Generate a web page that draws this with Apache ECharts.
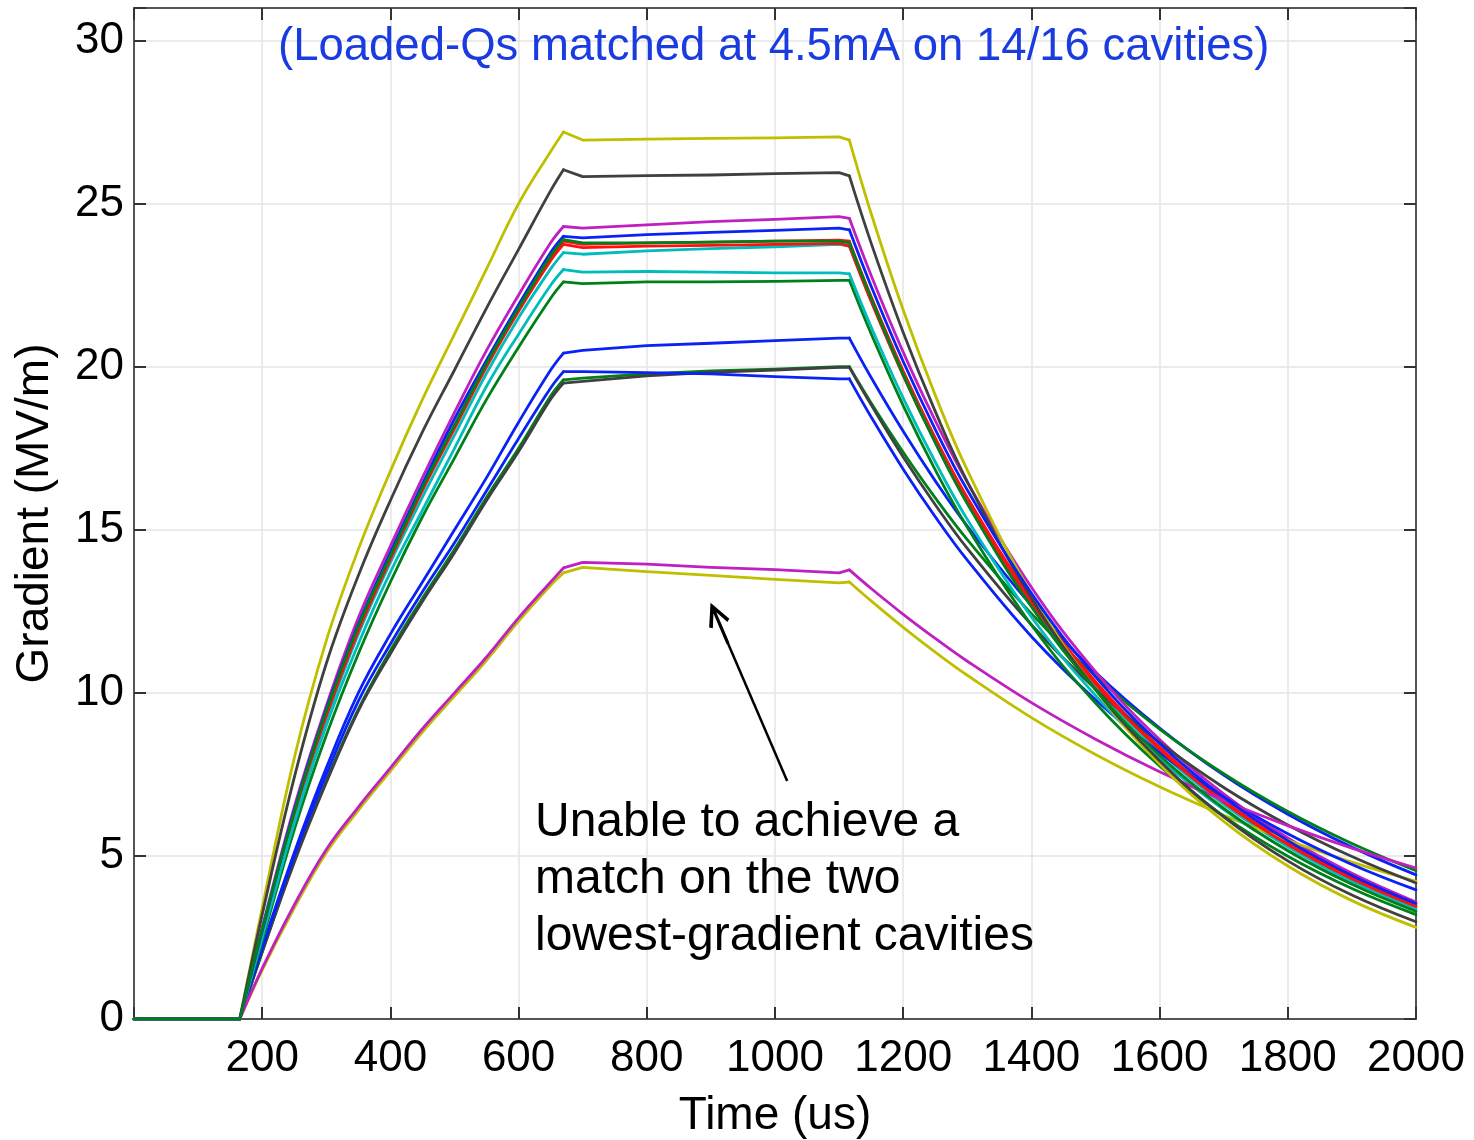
<!DOCTYPE html>
<html>
<head>
<meta charset="utf-8">
<script src="https://cdn.jsdelivr.net/npm/echarts@6/dist/echarts.min.js"></script>
<style>
html,body{margin:0;padding:0;background:#fff;}
#chart{width:1474px;height:1140px;}
</style>
</head>
<body>
<div id="chart"></div>
<script>
// Time axis (us)
var timeUs = [0,165,200,250,300,350,400,450,500,550,600,650,670,700,800,900,1000,1100,1116,1150,1200,1250,1300,1400,1500,1600,1700,1800,1900,2000];

// Gradient (MV/m) per cavity
var yellowTop   = [0,0, 3.4,8.0,11.6,14.4,16.8,19.0,21.0,23.0,25.0,26.6,27.2, 26.95,26.98,27.0,27.02,27.05, 26.95, 24.70,21.74,19.13,16.83,13.04,10.10,7.82,6.06,4.69,3.63,2.81];
var blackTop    = [0,0, 3.2,7.4,10.9,13.6,15.9,18.0,19.9,21.8,23.6,25.4,26.04, 25.83,25.86,25.88,25.92,25.95, 25.85, 23.79,21.05,18.63,16.48,12.91,10.11,7.92,6.20,4.85,3.80,2.98];
var magentaHigh = [0,0, 2.8,6.5,9.6,12.3,14.5,16.6,18.6,20.5,22.2,23.8,24.3, 24.25,24.35,24.45,24.52,24.6, 24.55, 22.80,20.45,18.35,16.46,13.24,10.65,8.57,6.90,5.55,4.47,3.59];
var blueHigh    = [0,0, 2.7,6.4,9.5,12.1,14.3,16.4,18.4,20.2,21.9,23.5,24.0, 23.95,24.05,24.12,24.18,24.25, 24.2, 22.47,20.16,18.08,16.22,13.05,10.50,8.45,6.80,5.47,4.40,3.54];
var redA        = [0,0, 2.7,6.3,9.4,12.0,14.2,16.3,18.2,20.1,21.8,23.35,23.85, 23.75,23.8,23.82,23.85,23.88, 23.85, 22.15,19.87,17.82,15.99,12.86,10.35,8.33,6.70,5.39,4.34,3.49];
var greenA      = [0,0, 2.75,6.35,9.45,12.05,14.2,16.3,18.2,20.1,21.8,23.4,23.9, 23.8,23.8,23.82,23.85,23.85, 23.8, 22.10,19.76,17.67,15.80,12.64,10.10,8.08,6.46,5.16,4.13,3.30];
var redB        = [0,0, 2.7,6.3,9.3,11.9,14.1,16.2,18.1,20.0,21.7,23.25,23.75, 23.65,23.7,23.72,23.75,23.78, 23.7, 22.0,19.73,17.70,15.87,12.77,10.28,8.27,6.65,5.35,4.30,3.45];
var cyanA       = [0,0, 2.6,6.2,9.2,11.8,14.0,16.0,17.9,19.8,21.5,23.0,23.5, 23.45,23.55,23.62,23.68,23.75, 23.7, 22.04,19.75,17.69,15.85,12.73,10.21,8.20,6.58,5.28,4.24,3.40];
var cyanB       = [0,0, 2.5,6.0,9.0,11.5,13.7,15.6,17.5,19.4,21.0,22.5,22.98, 22.9,22.92,22.9,22.88,22.88, 22.85, 21.22,19.04,17.08,15.32,12.33,9.92,7.98,6.42,5.17,4.16,3.35];
var greenB      = [0,0, 2.4,5.8,8.7,11.2,13.4,15.4,17.2,19.0,20.6,22.1,22.6, 22.55,22.6,22.6,22.62,22.65, 22.65, 21.01,18.81,16.84,15.08,12.08,9.69,7.76,6.22,4.99,4.00,3.20];
var blueB       = [0,0, 2.2,5.1,7.7,10.0,11.8,13.4,15.0,16.6,18.3,19.9,20.42, 20.5,20.65,20.72,20.8,20.88, 20.88, 19.67,18.02,16.50,15.11,12.68,10.63,8.92,7.48,6.28,5.27,4.42];
var blueC       = [0,0, 2.15,5.0,7.5,9.75,11.5,13.1,14.6,16.2,17.8,19.35,19.85, 19.85,19.82,19.78,19.7,19.63, 19.63, 18.46,16.86,15.40,14.07,11.73,9.79,8.17,6.81,5.68,4.74,3.96];
var greenC      = [0,0, 2.05,4.85,7.3,9.5,11.3,12.9,14.4,16.0,17.5,19.1,19.6, 19.65,19.78,19.87,19.93,20.0, 20.0, 18.89,17.38,15.98,14.70,12.43,10.51,8.89,7.52,6.36,5.38,4.55];
var blackC      = [0,0, 2.05,4.8,7.25,9.45,11.2,12.8,14.3,15.9,17.4,19.0,19.5, 19.55,19.72,19.83,19.9,19.98, 19.98, 18.83,17.23,15.77,14.43,12.09,10.12,8.48,7.10,5.95,4.98,4.17];
var magentaLow  = [0,0, 1.55,3.5,5.2,6.5,7.7,8.9,10.0,11.1,12.3,13.4,13.83, 14.0,13.95,13.85,13.78,13.68, 13.77, 13.20,12.41,11.67,10.97,9.70,8.58,7.58,6.70,5.93,5.24,4.63];
var yellowLow   = [0,0, 1.5,3.4,5.1,6.4,7.6,8.8,9.9,11.0,12.2,13.3,13.68, 13.85,13.72,13.6,13.48,13.37, 13.4, 12.82,12.01,11.25,10.54,9.24,8.11,7.12,6.25,5.48,4.81,4.22];

var yTicks = [0,5,10,15,20,25,30];
var xTicks = [200,400,600,800,1000,1200,1400,1600,1800,2000];

var titleText = '(Loaded-Qs matched at 4.5mA on 14/16 cavities)';
var noteText = 'Unable to achieve a\nmatch on the two\nlowest-gradient cavities';
// arrow (data coordinates): tail and head
var arrowTail = [1019, 7.30];
var arrowHead = [913, 12.14];

var C = {b:'#0a22f5', g:'#00801a', r:'#ff1010', c:'#00bcbc', m:'#bf20bf', y:'#bfbf00', k:'#404040'};
var seriesDefs = [
  ['blueB', blueB, C.b], ['greenC', greenC, C.g], ['redA', redA, C.r], ['cyanA', cyanA, C.c],
  ['magentaHigh', magentaHigh, C.m], ['yellowLow', yellowLow, C.y], ['blackC', blackC, C.k],
  ['blueC', blueC, C.b], ['greenB', greenB, C.g], ['redB', redB, C.r], ['cyanB', cyanB, C.c],
  ['magentaLow', magentaLow, C.m], ['yellowTop', yellowTop, C.y], ['blackTop', blackTop, C.k],
  ['blueHigh', blueHigh, C.b], ['greenA', greenA, C.g]
];

var FONT = '"Liberation Sans", Arial, Helvetica, sans-serif';
var axisCol = '#555';
var gridCol = '#e4e4e4';

// segments of each trace: [start index, end index, smoothing]
var segments = [[0, 1, 0], [1, 12, 0.4], [12, 18, 0], [18, 29, 0.4]];

var series = [];
seriesDefs.forEach(function (d) {
  segments.forEach(function (s) {
    var pts = [];
    for (var i = s[0]; i <= s[1]; i++) pts.push([timeUs[i], d[1][i]]);
    series.push({
      name: d[0], type: 'line', xAxisIndex: 0, yAxisIndex: 0,
      data: pts, showSymbol: false, symbol: 'none', smooth: s[2],
      lineStyle: {color: d[2], width: 2.8, cap: 'round', join: 'round'},
      itemStyle: {color: d[2]},
      silent: true
    });
  });
});
series[0].markLine = {
  silent: true,
  symbol: ['none', 'path://M5,0 L10,10 L8.6,11 L5.7,5 L5.7,20 L4.3,20 L4.3,5 L1.4,11 L0,10 Z'],
  symbolSize: [22, 44],
  lineStyle: {color: '#000', width: 2.5, type: 'solid'},
  itemStyle: {color: '#000'},
  label: {show: false},
  data: [[{coord: arrowTail}, {coord: arrowHead}]]
};

function axisBase(pos) {
  return {
    type: 'value', position: pos, min: 0,
    axisLine: {show: true, onZero: false, lineStyle: {color: axisCol, width: 2}},
    axisTick: {show: true, inside: true, length: 12, lineStyle: {color: '#333', width: 2}},
    splitLine: {show: false}
  };
}
var xb = axisBase('bottom');
xb.max = 2000; xb.interval = 200;
xb.splitLine = {show: true, lineStyle: {color: gridCol, width: 1.5}};
xb.axisLabel = {fontSize: 44, color: '#000', fontFamily: FONT, margin: 18,
  formatter: function (v) { return xTicks.indexOf(v) >= 0 ? String(v) : ''; }};
xb.name = 'Time (us)'; xb.nameLocation = 'middle'; xb.nameGap = 74;
xb.nameTextStyle = {fontSize: 46, color: '#000', fontFamily: FONT};

var xt = axisBase('top');
xt.max = 2000; xt.interval = 200; xt.axisLabel = {show: false};

var yl = axisBase('left');
yl.max = 31; yl.interval = 5;
yl.splitLine = {show: true, lineStyle: {color: gridCol, width: 1.5}};
yl.axisLabel = {fontSize: 44, color: '#000', fontFamily: FONT, margin: 10,
  formatter: function (v) { return yTicks.indexOf(v) >= 0 ? String(v) : ''; }};
yl.name = 'Gradient (MV/m)'; yl.nameLocation = 'middle'; yl.nameGap = 76; yl.nameRotate = 90;
yl.nameTextStyle = {fontSize: 46, color: '#000', fontFamily: FONT};

var yr = axisBase('right');
yr.max = 31; yr.interval = 5; yr.axisLabel = {show: false};

var chart = echarts.init(document.getElementById('chart'), null, {renderer: 'canvas'});
chart.setOption({
  animation: false,
  backgroundColor: '#fff',
  title: {text: titleText, left: 273, top: 19,
    textStyle: {color: '#1a3be0', fontSize: 45.5, fontWeight: 'normal', fontFamily: FONT}},
  grid: {left: 134, right: 58, top: 8, bottom: 121, containLabel: false, outerBoundsMode: 'none'},
  xAxis: [xb, xt],
  yAxis: [yl, yr],
  graphic: [{
    type: 'text', left: 535, top: 794, z: 100, silent: true,
    style: {text: noteText, fontSize: 48, lineHeight: 57, fill: '#000', fontFamily: FONT}
  }],
  series: series
});
</script>
</body>
</html>
